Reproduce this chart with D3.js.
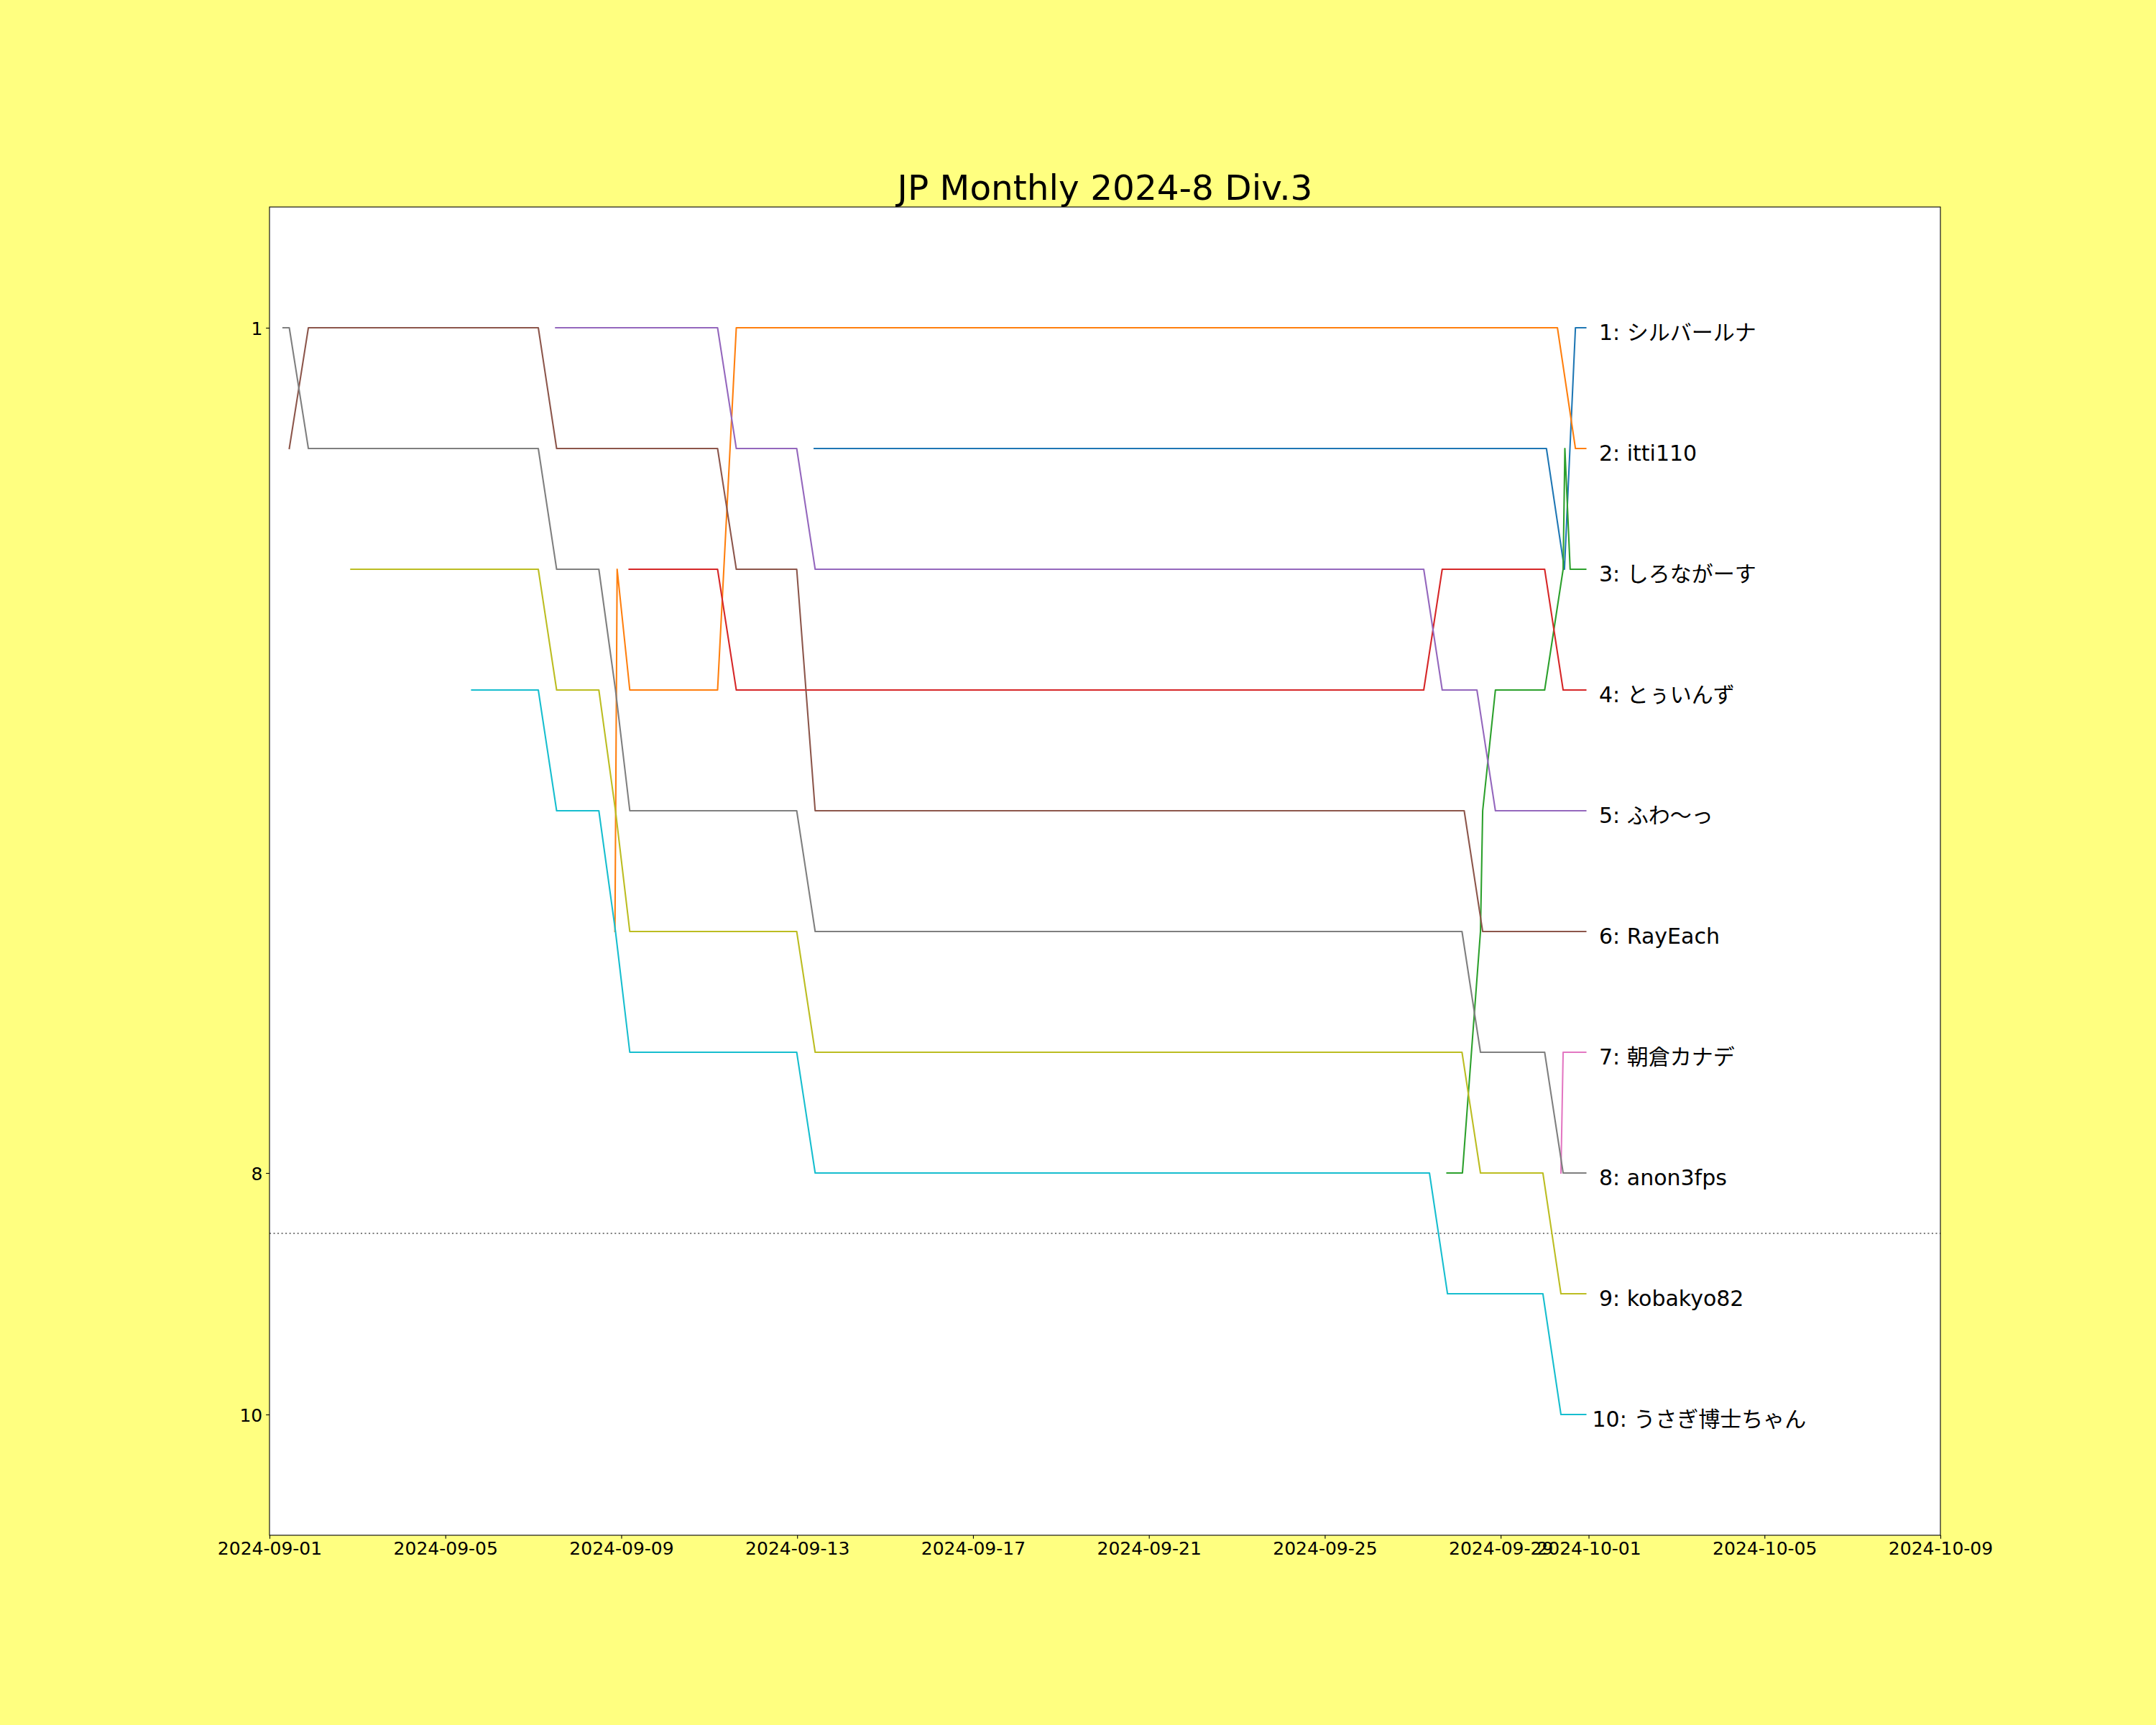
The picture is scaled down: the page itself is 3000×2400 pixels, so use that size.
<!DOCTYPE html>
<html><head><meta charset="utf-8">
<script src="https://cdn.jsdelivr.net/npm/d3@7"></script>
<style>html,body{margin:0;padding:0;background:#ffff80;}</style>
</head><body>
<svg id="chart" width="3000" height="2400" xmlns="http://www.w3.org/2000/svg"></svg>
<script>
// ---------------- data ----------------
const chartTitle = "JP Monthly 2024-8 Div.3";
const names = ["シルバールナ","itti110","しろながーす","とぅいんず","ふわ〜っ","RayEach","朝倉カナデ","anon3fps","kobakyo82","うさぎ博士ちゃん"];
const colors = ["#1f77b4","#ff7f0e","#2ca02c","#d62728","#9467bd","#8c564b","#e377c2","#7f7f7f","#bcbd22","#17becf"];
const xTickLabels = ["2024-09-01","2024-09-05","2024-09-09","2024-09-13","2024-09-17","2024-09-21","2024-09-25","2024-09-29","2024-10-01","2024-10-05","2024-10-09"];
const yTickLabels = [1, 8, 10];
const xDomain = ["2024-09-01 00:00","2024-10-09 00:00"];
const yDomain = [0, 11];
const cutoffRank = 8.5;

// [time, rank] per user
const silverLuna = [["2024-09-13 09:22",2],["2024-09-30 00:58",2],["2024-09-30 10:48",3],["2024-09-30 16:48",1],["2024-09-30 22:25",1]];
const itti110 = [["2024-09-08 20:33",6],["2024-09-08 21:45",3],["2024-09-09 04:39",4],["2024-09-11 04:34",4],["2024-09-11 14:47",1],["2024-09-30 06:58",1],["2024-09-30 16:48",2],["2024-09-30 22:25",2]];
const shironagasu = [["2024-09-27 18:43",8],["2024-09-28 03:07",8],["2024-09-28 12:58",6],["2024-09-28 14:10",5],["2024-09-28 21:07",4],["2024-09-30 00:00",4],["2024-09-30 10:05",3],["2024-09-30 11:02",2],["2024-09-30 13:55",3],["2024-09-30 22:25",3]];
const twins = [["2024-09-09 04:19",3],["2024-09-11 04:34",3],["2024-09-11 14:47",4],["2024-09-27 06:00",4],["2024-09-27 16:05",3],["2024-09-30 00:00",3],["2024-09-30 10:05",4],["2024-09-30 22:25",4]];
const fuwa = [["2024-09-07 12:14",1],["2024-09-11 04:34",1],["2024-09-11 14:47",2],["2024-09-12 23:46",2],["2024-09-13 09:50",3],["2024-09-27 06:00",3],["2024-09-27 16:05",4],["2024-09-28 11:02",4],["2024-09-28 21:07",5],["2024-09-30 22:25",5]];
const rayEach = [["2024-09-01 10:48",2],["2024-09-01 21:13",1],["2024-09-07 02:43",1],["2024-09-07 12:43",2],["2024-09-11 04:34",2],["2024-09-11 14:47",3],["2024-09-12 23:46",3],["2024-09-13 09:50",5],["2024-09-28 04:05",5],["2024-09-28 14:10",6],["2024-09-30 22:25",6]];
const asakuraKanade = [["2024-09-30 08:53",8],["2024-09-30 10:05",7],["2024-09-30 22:25",7]];
const anon3fps = [["2024-09-01 07:26",1],["2024-09-01 10:48",1],["2024-09-01 21:13",2],["2024-09-07 02:43",2],["2024-09-07 12:43",3],["2024-09-08 11:46",3],["2024-09-08 20:51",4],["2024-09-09 04:39",5],["2024-09-12 23:46",5],["2024-09-13 09:50",6],["2024-09-28 02:53",6],["2024-09-28 12:58",7],["2024-09-30 00:00",7],["2024-09-30 10:05",8],["2024-09-30 22:25",8]];
const kobakyo82 = [["2024-09-02 20:27",3],["2024-09-07 02:43",3],["2024-09-07 12:43",4],["2024-09-08 11:46",4],["2024-09-08 20:51",5],["2024-09-09 04:39",6],["2024-09-12 23:46",6],["2024-09-13 09:50",7],["2024-09-28 02:53",7],["2024-09-28 12:58",8],["2024-09-29 23:02",8],["2024-09-30 08:53",9],["2024-09-30 22:25",9]];
const usagiHakase = [["2024-09-05 14:24",4],["2024-09-07 02:43",4],["2024-09-07 12:43",5],["2024-09-08 11:46",5],["2024-09-08 20:51",6],["2024-09-09 04:39",7],["2024-09-12 23:46",7],["2024-09-13 09:50",8],["2024-09-27 09:07",8],["2024-09-27 18:58",9],["2024-09-29 23:02",9],["2024-09-30 08:53",10],["2024-09-30 22:25",10]];

const seriesPoints = [silverLuna, itti110, shironagasu, twins, fuwa, rayEach, asakuraKanade, anon3fps, kobakyo82, usagiHakase];

// ---------------- drawing ----------------
const W = 3000, H = 2400;
const L = 375, R = 2700, T = 288, B = 2136;
const parseT = d3.utcParse("%Y-%m-%d %H:%M");
const parseD = d3.utcParse("%Y-%m-%d");
const FONT = "'DejaVu Sans', 'Noto Sans CJK JP', sans-serif";

const x = d3.scaleUtc().domain(xDomain.map(parseT)).range([L, R]);
const y = d3.scaleLinear().domain(yDomain).range([T, B]);

const svg = d3.select("#chart");
svg.append("rect").attr("width", W).attr("height", H).attr("fill", "#ffff80");
svg.append("rect").attr("x", L).attr("y", T).attr("width", R - L).attr("height", B - T).attr("fill", "#ffffff");

// cutoff dotted line
svg.append("line")
  .attr("x1", L).attr("x2", R)
  .attr("y1", y(cutoffRank)).attr("y2", y(cutoffRank))
  .attr("stroke", "#808080").attr("stroke-width", 2.08)
  .attr("stroke-dasharray", "2.08 3.44");

const line = d3.line().x(d => x(parseT(d[0]))).y(d => y(d[1]));

const series = names.map((n, i) => ({name: n, color: colors[i], pts: seriesPoints[i]}));

svg.append("g").selectAll("path").data(series).join("path")
  .attr("d", d => line(d.pts))
  .attr("fill", "none")
  .attr("stroke", d => d.color)
  .attr("stroke-width", 2.08)
  .attr("stroke-linejoin", "round")
  .attr("stroke-linecap", "square");

// end labels
svg.append("g").selectAll("text").data(series).join("text")
  .attr("x", d => x(parseT(d.pts[d.pts.length - 1][0])) + 9)
  .attr("y", d => y(d.pts[d.pts.length - 1][1]) + 17)
  .attr("xml:space", "preserve")
  .style("white-space", "pre")
  .attr("font-family", FONT)
  .attr("font-size", 30)
  .attr("fill", "#000")
  .text(d => {
    const r = d.pts[d.pts.length - 1][1];
    return (r < 10 ? " " : "") + r + ": " + d.name;
  });

// axes
const xAxis = d3.axisBottom(x)
  .tickValues(xTickLabels.map(parseD))
  .tickFormat(d3.utcFormat("%Y-%m-%d"))
  .tickSize(4.86).tickSizeOuter(0).tickPadding(4.86);
const gx = svg.append("g").attr("transform", `translate(0,${B})`).call(xAxis);
gx.select(".domain").remove();
gx.selectAll(".tick line").attr("stroke", "#000").attr("stroke-width", 1.1);
gx.selectAll(".tick text").attr("font-family", FONT).attr("font-size", 25).attr("fill", "#000");

const yAxis = d3.axisLeft(y)
  .tickValues(yTickLabels)
  .tickFormat(d3.format("d"))
  .tickSize(4.86).tickSizeOuter(0).tickPadding(4.86);
const gy = svg.append("g").attr("transform", `translate(${L},0)`).call(yAxis);
gy.select(".domain").remove();
gy.selectAll(".tick line").attr("stroke", "#000").attr("stroke-width", 1.1);
gy.selectAll(".tick text").attr("font-family", FONT).attr("font-size", 25).attr("fill", "#000").attr("dy", "0.36em");

// frame
svg.append("rect").attr("x", L).attr("y", T).attr("width", R - L).attr("height", B - T)
  .attr("fill", "none").attr("stroke", "#000").attr("stroke-width", 1.1);

// title
svg.append("text")
  .attr("x", (L + R) / 2).attr("y", 278)
  .attr("text-anchor", "middle")
  .attr("font-family", FONT)
  .attr("font-size", 48.5)
  .attr("fill", "#000")
  .text(chartTitle);
</script>
</body></html>
